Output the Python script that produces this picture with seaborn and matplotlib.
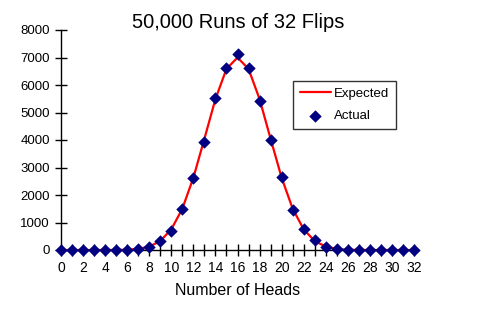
import matplotlib
matplotlib.use("Agg")
import matplotlib.pyplot as plt
import seaborn as sns
import pandas as pd

heads = list(range(33))
expected = [0.0, 0.0, 0.0, 0.1, 0.4, 2.3, 10.5, 39.2, 122.5, 326.5, 751.0, 1502.0,
            2628.6, 4044.0, 5488.2, 6585.9, 6997.5, 6585.9, 5488.2, 4044.0, 2628.6,
            1502.0, 751.0, 326.5, 122.5, 39.2, 10.5, 2.3, 0.4, 0.1, 0.0, 0.0, 0.0]
actual = [0, 0, 0, 0, 0, 2, 10, 36, 98, 327, 690, 1480, 2606, 3927, 5527, 6607,
          7127, 6607, 5418, 4000, 2666, 1455, 764, 364, 98, 36, 10, 2, 0, 0, 0, 0, 0]
xticks = list(range(0, 33, 2))
yticks = list(range(0, 8001, 1000))

df = pd.DataFrame({"heads": heads, "expected": expected, "actual": actual})

sns.set_style("white")
plt.rcParams["font.family"] = ["Liberation Sans", "DejaVu Sans"]
plt.rcParams["text.color"] = "black"
plt.rcParams["xtick.color"] = "black"
plt.rcParams["ytick.color"] = "black"
plt.rcParams["axes.labelcolor"] = "black"

fig = plt.figure(figsize=(4.83, 3.13), dpi=100)
ax = fig.add_axes([61/483, 63/313, 353/483, 220/313])

sns.lineplot(data=df, x="heads", y="expected", ax=ax, color="#ff0000", lw=1.6,
             label="Expected", clip_on=False)
sns.scatterplot(data=df, x="heads", y="actual", ax=ax, color="#000080", marker="D",
                s=40, edgecolor="#000080", linewidth=0, label="Actual", clip_on=False, zorder=3)

ax.set_xlim(0, 32)
ax.set_ylim(0, 8000)
ax.set_xticks(heads, minor=True)
ax.set_xticks(xticks)
ax.set_xticklabels([str(t) for t in xticks], fontsize=10)
ax.set_yticks(yticks)
ax.set_yticklabels([str(t) for t in yticks], fontsize=9.5)
ax.tick_params(axis="both", which="both", direction="inout", length=8, width=1,
               color="black", labelcolor="black", pad=4, bottom=True, left=True)
for s in ["top", "right"]:
    ax.spines[s].set_visible(False)
for s in ["left", "bottom"]:
    ax.spines[s].set_color("black")
    ax.spines[s].set_linewidth(1)

ax.set_xlabel("Number of Heads", fontsize=11.5, labelpad=6, color="black")
ax.set_ylabel("")
fig.text(238/483, 1 - 23/313, "50,000 Runs of 32 Flips", ha="center", va="center",
         fontsize=14.5, color="black")

leg = ax.legend(loc="upper left", bbox_to_anchor=((293-61)/353, (250-81)/220),
                borderaxespad=0, frameon=True, fancybox=False, edgecolor="black",
                fontsize=9.5, handlelength=2.4, borderpad=0.5, labelspacing=0.75,
                handletextpad=0.2)
leg.get_frame().set_linewidth(1)
for t in leg.get_texts():
    t.set_color("black")

fig.savefig("out.png", dpi=100, facecolor="white")
